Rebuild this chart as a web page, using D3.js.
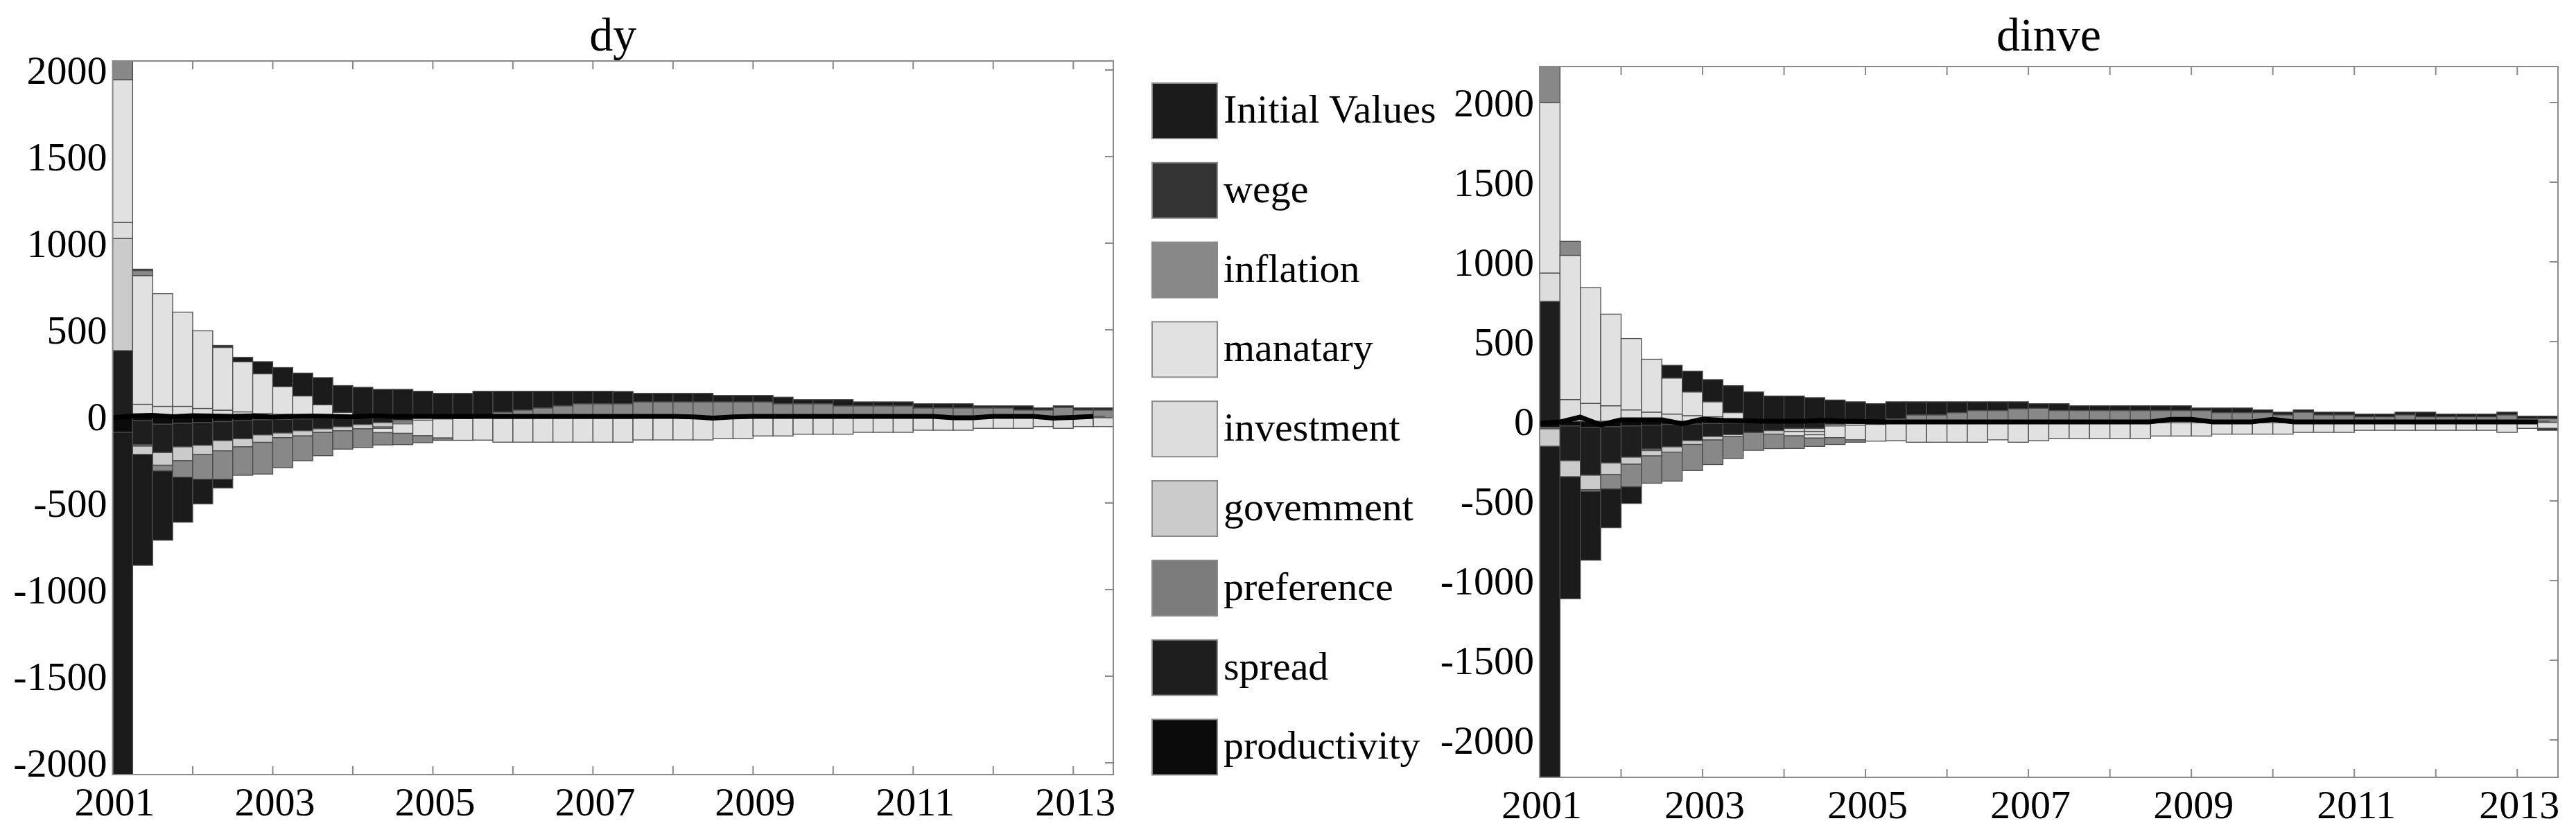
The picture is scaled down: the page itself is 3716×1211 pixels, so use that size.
<!DOCTYPE html>
<html>
<head>
<meta charset="utf-8">
<script src="https://cdn.jsdelivr.net/npm/d3@7"></script>
<style>
	body { margin: 0; background: #fff; }
	svg text { font-family: "Liberation Serif", "Times New Roman", serif; fill: #000; }
</style>
</head>
<body>
<div id="chart"></div>
<script>
const WIDTH = 3716
const HEIGHT = 1211

// quarters 2001Q1 .. 2013Q2
const periods = d3.range(50).map(i => 2001 + i * 0.25)
const yearTicks = [2001, 2002, 2003, 2004, 2005, 2006, 2007, 2008, 2009, 2010, 2011, 2012, 2013]
const yearLabels = [2001, 2003, 2005, 2007, 2009, 2011, 2013]
const valueTicks = [-2000, -1500, -1000, -500, 0, 500, 1000, 1500, 2000]

// stacking order, from zero outwards
const shocks = ["productivity", "spread", "preference", "govemment", "investment", "manatary", "inflation", "wege", "Initial Values"]
const shockColors = ["#0b0b0b", "#1e1e1e", "#7b7b7b", "#cbcbcb", "#dddddd", "#e1e1e1", "#888888", "#333333", "#1b1b1b"]

// ---- dy ----
const dyProductivity = [-92, -25, -45, -40, -35, -30, -25, -20, -18, -15,
	-12, -10, -8, -6, -4, -2, 0, 0, 0, 0,
	0, 0, 0, 0, 0, 0, 0, 0, 0, 0,
	0, 0, 0, 0, 0, 0, 0, 0, 0, 0,
	0, 0, 0, 0, 0, 0, 0, 0, 0, 0]
const dySpread = [380, -138, -164, -136, -132, -110, -104, -87, -78, -68,
	-60, -50, -39, -30, -19, -8, -5, -3, 0, 0,
	0, 0, 0, 0, 0, 0, 0, 0, 0, 0,
	0, 0, 0, 0, 0, 0, 0, 0, 0, 0,
	0, 0, 0, 0, 0, 0, 0, 0, 0, 0]
const dyPreference = [0, -9, 0, 0, 0, 0, 0, 0, 0, 0,
	0, 0, 0, 0, 0, 0, 0, 0, 0, 0,
	0, 0, 0, 0, 0, 0, 0, 0, 0, 0,
	0, 0, 0, 0, 0, 0, 0, 0, 0, 0,
	0, 0, 0, 0, 0, 0, 0, 0, 0, 0]
const dyGovemment = [647, -48, -73, -80, -53, -59, -47, -43, -27, -30,
	-21, -23, -25, -25, -10, 0, 0, 0, 0, 0,
	0, 0, 0, 0, 0, 0, 0, 0, 0, 0,
	0, 0, 0, 0, 0, 0, 0, 0, 0, 0,
	0, 0, 0, 0, 0, 0, 0, 0, 0, 0]
const dyInvestment = [93, 70, 58, 58, 46, 36, 26, 16, 12, 8,
	5, 3, 0, -8, -10, -12, -10, -10, -10, -12,
	-12, -12, -12, -12, -12, -12, -10, -10, -10, -10,
	-10, -10, -10, -10, -10, -10, -10, -10, -10, -10,
	-8, -8, -8, -8, -8, -8, -8, -8, -8, -8]
const dyManatary = [824, 743, 651, 544, 448, 362, 289, 230, 160, 110,
	62, 20, 0, -25, -55, -90, -110, -125, -127, -137,
	-137, -137, -137, -137, -137, -137, -126, -126, -126, -126,
	-117, -117, -103, -103, -93, -93, -93, -82, -82, -82,
	-72, -72, -72, -61, -61, -61, -51, -61, -51, -51]
const dyInflation = [108, 29, -33, -95, -143, -164, -164, -183, -173, -143,
	-134, -106, -108, -71, -65, -40, -13, 0, 0, 25,
	37, 49, 61, 73, 73, 73, 84, 84, 84, 84,
	84, 84, 84, 73, 73, 73, 61, 61, 61, 61,
	49, 49, 49, 49, 49, 37, 37, 52, 37, 37]
const dyWege = [0, 8, 0, 0, 0, 12, 0, 0, 0, 0,
	0, 0, 0, 0, 0, 0, 0, 0, 0, 0,
	0, 0, 0, 0, 0, 0, 0, 0, 0, 0,
	0, 0, 0, 0, 0, 0, 0, 0, 0, 0,
	0, 0, 0, 0, 0, 0, 0, 0, 0, 0]
const dyInitial = [-1976, -640, -400, -260, -142, -50, 26, 70, 110, 132,
	157, 155, 168, 156, 156, 145, 133, 133, 145, 120,
	108, 96, 84, 72, 72, 71, 49, 49, 49, 49,
	37, 37, 37, 38, 24, 24, 36, 23, 23, 23,
	24, 24, 24, 12, 12, 24, 12, 9, 12, 12]
const dyTotal = [-8, 3, 6, -2, 4, 2, 0, 3, -4, 0,
	2, 0, -3, 4, 0, 0, 0, 0, 0, 0,
	0, 0, 0, 0, 0, 0, 0, 0, 0, -3,
	-10, -3, 0, 0, 0, 0, 0, 0, 0, 0,
	0, 0, -8, -8, 0, 0, 0, -10, -6, 0]

// ---- dinve ----
const dinveProductivity = [-38, -30, -40, -35, -30, -25, -20, -18, -15, -12,
	-10, -8, -6, -5, 0, 0, 0, 0, 0, 0,
	0, 0, 0, 0, 0, 0, 0, 0, 0, 0,
	0, 0, 0, 0, 0, 0, 0, 0, 0, 0,
	0, 0, 0, 0, 0, 0, 0, 0, 0, 0]
const dinveSpread = [752, -218, -299, -227, -196, -150, -141, -104, -81, -72,
	-61, -51, -39, -40, -20, -15, -10, -5, 0, 0,
	0, 0, 0, 0, 0, 0, 0, 0, 0, 0,
	0, 0, 0, 0, 0, 0, 0, 0, 0, 0,
	0, 0, 0, 0, 0, 0, 0, 0, 0, 0]
const dinvePreference = [-10, 0, 0, 0, 0, -10, 0, 0, 0, 0,
	0, 0, 0, 0, 0, 0, 0, 0, 0, 0,
	0, 0, 0, 0, 0, 0, 0, 0, 0, 0,
	0, 0, 0, 0, 0, 0, 0, 0, 0, 0,
	0, 0, 0, 0, 0, 0, 0, 0, 0, 0]
const dinveGovemment = [-110, -101, -90, -73, -44, -33, -33, -24, -22, -12,
	0, -22, -20, -20, 0, 0, 0, 0, 0, 0,
	0, 0, 0, 0, 0, 0, 0, 0, 0, 0,
	0, 0, 0, 0, 0, 0, 0, 0, 0, 0,
	0, 0, 0, 0, 0, 0, 0, 0, 0, 0]
const dinveInvestment = [178, 136, 112, 97, 71, 57, 45, 35, 28, 15,
	0, 0, -27, -20, -10, -10, -10, -10, -10, -10,
	-10, -10, -10, -10, -10, -10, -10, -10, -10, -10,
	-10, -10, -10, -10, -10, -10, -10, -10, -10, -10,
	-10, -10, -10, -10, -10, -10, -10, -10, -8, -8]
const dinveManatary = [1070, 905, 726, 575, 448, 332, 226, 149, 94, 39,
	0, 0, 0, -21, -73, -92, -105, -107, -122, -122,
	-122, -122, -107, -122, -112, -98, -98, -98, -98, -98,
	-83, -83, -83, -71, -71, -71, -71, -60, -60, -60,
	-47, -47, -47, -47, -47, -47, -47, -60, -37, -37]
const dinveInflation = [226, 88, -11, -90, -142, -171, -182, -164, -154, -137,
	-112, -91, -79, -52, -43, -15, 0, 16, 40, 40,
	54, 67, 67, 78, 81, 67, 67, 67, 67, 67,
	67, 67, 67, 54, 54, 54, 40, 57, 40, 40,
	28, 28, 40, 28, 28, 28, 28, 40, 17, 17]
const dinveWege = [0, 0, 0, 0, 0, 0, 0, 0, 0, 0,
	0, 0, 0, 0, 0, 0, 0, 0, 0, 0,
	0, 0, 0, 0, 0, 0, 0, 0, 0, 0,
	0, 0, 0, 0, 0, 0, 0, 0, 0, 0,
	0, 0, 0, 0, 0, 0, 0, 0, 0, -12]
const dinveInitial = [-2077, -765, -432, -243, -104, 0, 80, 130, 139, 169,
	184, 158, 158, 148, 133, 122, 110, 106, 82, 82,
	68, 55, 55, 44, 29, 43, 30, 30, 30, 30,
	30, 30, 16, 29, 29, 17, 17, 14, 17, 17,
	17, 17, 17, 29, 17, 17, 17, 17, 15, 15]
const dinveTotal = [-12, -5, 26, -23, 9, 9, 9, -16, 13, 5,
	3, 0, 0, 0, 5, 0, -2, -4, -4, -4,
	-4, -4, -4, -4, -4, -4, -4, -4, -4, -4,
	-4, 12, 12, -4, -4, -4, 12, -4, -4, -4,
	-4, -4, -4, -4, -4, -4, -4, -4, -4, -4]

const panels = [
	{
		title: "dy",
		series: [dyProductivity, dySpread, dyPreference, dyGovemment, dyInvestment, dyManatary, dyInflation, dyWege, dyInitial],
		total: dyTotal,
		left: 162.5, right: 1606, top: 88, bottom: 1118,
		yDomain: [-2068, 2052]
	},
	{
		title: "dinve",
		series: [dinveProductivity, dinveSpread, dinvePreference, dinveGovemment, dinveInvestment, dinveManatary, dinveInflation, dinveWege, dinveInitial],
		total: dinveTotal,
		left: 2221, right: 3690, top: 96, bottom: 1122,
		yDomain: [-2235, 2226]
	}
]

const FRAME = "#8a8a8a"
const TICK = 12

const svg = d3.select("#chart")
	.append("svg")
		.attr("width", WIDTH)
		.attr("height", HEIGHT)

// positive parts stack upwards, negative parts downwards
function stackSegments(series) {
	const segs = []
	periods.forEach((p, i) => {
		let pos = 0, neg = 0
		series.forEach((s, j) => {
			const v = s[i]
			if (v === 0) return
			if (v > 0) {
				segs.push({ p, j, y0: pos, y1: pos + v })
				pos += v
			} else {
				segs.push({ p, j, y0: neg + v, y1: neg })
				neg += v
			}
		})
	})
	return segs
}

panels.forEach((panel, k) => {
	const x = d3.scaleLinear()
		.domain([2001, 2013.5])
		.range([panel.left, panel.right])
	const y = d3.scaleLinear()
		.domain(panel.yDomain)
		.range([panel.bottom, panel.top])

	const g = svg.append("g")

	svg.append("clipPath")
		.attr("id", "clip" + k)
		.append("rect")
			.attr("x", panel.left)
			.attr("y", panel.top)
			.attr("width", panel.right - panel.left)
			.attr("height", panel.bottom - panel.top)

	const plot = g.append("g").attr("clip-path", `url(#clip${k})`)

	plot.selectAll("rect.seg")
		.data(stackSegments(panel.series))
		.enter().append("rect")
			.attr("class", "seg")
			.attr("x", d => x(d.p))
			.attr("width", d => x(d.p + 0.25) - x(d.p))
			.attr("y", d => y(d.y1))
			.attr("height", d => y(d.y0) - y(d.y1))
			.attr("fill", d => shockColors[d.j])
			.attr("stroke", "#4a4a4a")
			.attr("stroke-width", 1.3)

	const line = d3.line()
		.x((d, i) => x(periods[i]))
		.y(d => y(d))
	plot.append("path")
		.datum(panel.total)
		.attr("d", line)
		.attr("fill", "none")
		.attr("stroke", "#000")
		.attr("stroke-width", 7)
		.attr("stroke-linejoin", "round")

	// frame
	g.append("rect")
		.attr("x", panel.left)
		.attr("y", panel.top)
		.attr("width", panel.right - panel.left)
		.attr("height", panel.bottom - panel.top)
		.attr("fill", "none")
		.attr("stroke", FRAME)
		.attr("stroke-width", 2)

	// inner ticks, top and bottom
	yearTicks.slice(1).forEach(t => {
		g.append("line")
			.attr("x1", x(t)).attr("x2", x(t))
			.attr("y1", panel.top).attr("y2", panel.top + TICK)
			.attr("stroke", FRAME).attr("stroke-width", 2)
		g.append("line")
			.attr("x1", x(t)).attr("x2", x(t))
			.attr("y1", panel.bottom).attr("y2", panel.bottom - TICK)
			.attr("stroke", FRAME).attr("stroke-width", 2)
	})
	valueTicks.forEach(t => {
		g.append("line")
			.attr("x1", panel.right).attr("x2", panel.right - TICK)
			.attr("y1", y(t)).attr("y2", y(t))
			.attr("stroke", FRAME).attr("stroke-width", 2)
	})

	g.selectAll("text.ylab")
		.data(valueTicks)
		.enter().append("text")
			.attr("class", "ylab")
			.attr("x", panel.left - 8)
			.attr("y", d => y(d))
			.attr("dy", "0.35em")
			.attr("text-anchor", "end")
			.attr("font-size", 58)
			.text(d => d)

	g.selectAll("text.xlab")
		.data(yearLabels)
		.enter().append("text")
			.attr("class", "xlab")
			.attr("x", d => x(d) + 3)
			.attr("y", panel.bottom + 59)
			.attr("text-anchor", "middle")
			.attr("font-size", 58)
			.text(d => d)

	g.append("text")
		.attr("x", (panel.left + panel.right) / 2)
		.attr("y", 73)
		.attr("text-anchor", "middle")
		.attr("font-size", 68)
		.text(panel.title)
})

// legend, Initial Values on top
const legendItems = d3.range(shocks.length).reverse()
const legend = svg.append("g")
legend.selectAll("rect")
	.data(legendItems)
	.enter().append("rect")
		.attr("x", 1662)
		.attr("y", (d, i) => 120 + i * 114.8)
		.attr("width", 94)
		.attr("height", 80)
		.attr("fill", d => shockColors[d])
		.attr("stroke", "#8a8a8a")
		.attr("stroke-width", 2)
legend.selectAll("text")
	.data(legendItems)
	.enter().append("text")
		.attr("x", 1765)
		.attr("y", (d, i) => 120 + i * 114.8 + 57)
		.attr("font-size", 58)
		.text(d => shocks[d])
</script>
</body>
</html>
